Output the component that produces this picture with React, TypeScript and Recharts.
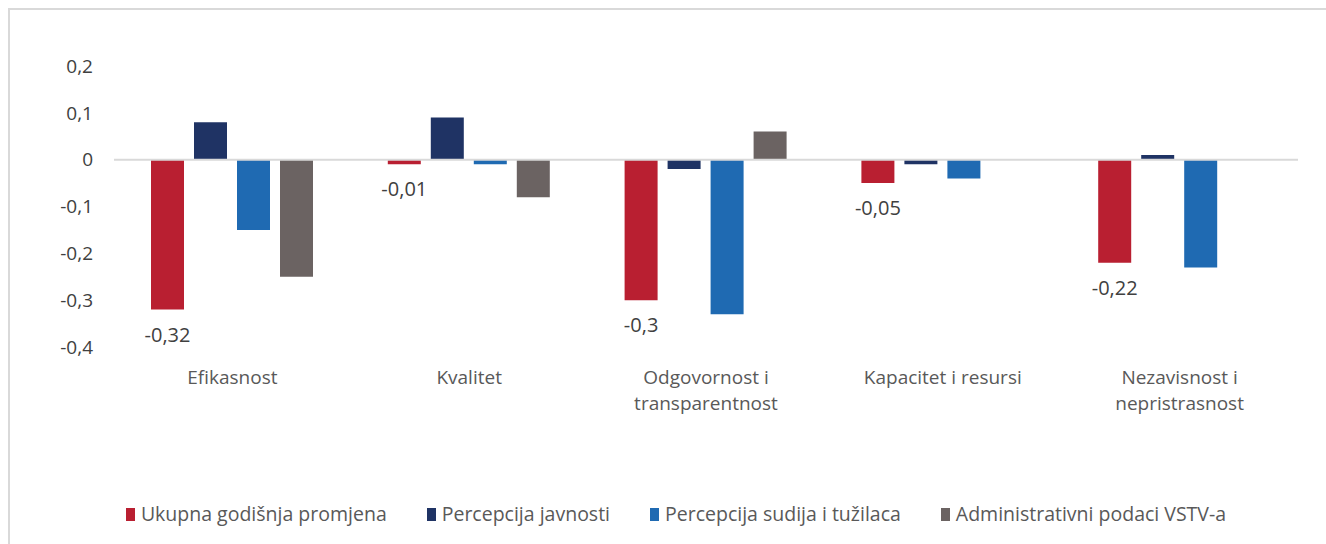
import React from "react";
import {
  BarChart,
  Bar,
  XAxis,
  YAxis,
  Legend,
  LabelList,
  ReferenceLine,
} from "recharts";

const categories = [
  "Efikasnost",
  "Kvalitet",
  "Odgovornost i transparentnost",
  "Kapacitet i resursi",
  "Nezavisnost i nepristrasnost",
];

const ukupna = [-0.32, -0.01, -0.3, -0.05, -0.22];
const javnost = [0.08, 0.09, -0.02, -0.01, 0.01];
const sudije = [-0.15, -0.01, -0.33, -0.04, -0.23];
const vstv = [-0.25, -0.08, 0.06, null, null];

const yTicks = [-0.4, -0.3, -0.2, -0.1, 0, 0.1, 0.2];

const series = [
  { key: "ukupna", name: "Ukupna godišnja promjena", color: "#B91F31" },
  { key: "javnost", name: "Percepcija javnosti", color: "#1F3364" },
  { key: "sudije", name: "Percepcija sudija i tužilaca", color: "#1F6AB2" },
  { key: "vstv", name: "Administrativni podaci VSTV-a", color: "#6B6362" },
];

const data = categories.map((name, i) => ({
  name,
  ukupna: ukupna[i],
  javnost: javnost[i],
  sudije: sudije[i],
  vstv: vstv[i],
}));

const FONT = "'Open Sans', Lato, sans-serif";

const comma = (v: number) => String(v).replace(".", ",");

function wrap(text: string, max: number) {
  const words = text.split(" ");
  const lines: string[] = [];
  let cur = "";
  for (const w of words) {
    const next = cur ? cur + " " + w : w;
    if (next.length > max && cur) {
      lines.push(cur);
      cur = w;
    } else {
      cur = next;
    }
  }
  if (cur) lines.push(cur);
  return lines;
}

function CategoryTick(props: any) {
  const { x, y, payload } = props;
  const lines = wrap(payload.value, 20);
  return (
    <text x={x} y={y} textAnchor="middle" fill="#595959" fontSize={19} fontFamily={FONT}>
      {lines.map((l, i) => (
        <tspan key={i} x={x} dy={i === 0 ? 37 : 26}>
          {l}
        </tspan>
      ))}
    </text>
  );
}

function BottomLabel(props: any) {
  const { x, y, width, height, value } = props;
  if (value == null) return null;
  const bottom = Math.max(y, y + height);
  return (
    <text
      x={x + width / 2}
      y={bottom + 32}
      textAnchor="middle"
      fill="#404040"
      fontSize={20}
      fontFamily={FONT}
    >
      {comma(value)}
    </text>
  );
}

function LegendContent() {
  return (
    <div
      style={{
        display: "flex",
        justifyContent: "center",
        gap: 40,
        fontFamily: FONT,
        fontSize: 19.5,
        color: "#595959",
        lineHeight: "24px",
      }}
    >
      {series.map((s) => (
        <div key={s.key} style={{ display: "flex", alignItems: "center" }}>
          <span
            style={{
              display: "inline-block",
              width: 9,
              height: 13,
              background: s.color,
              marginRight: 6,
            }}
          />
          {s.name}
        </div>
      ))}
    </div>
  );
}

export default function App() {
  return (
    <div
      style={{
        position: "fixed",
        left: 8,
        top: 8,
        width: 1330,
        height: 536,
        overflow: "hidden",
        borderTop: "2px solid #d9d9d9",
        borderLeft: "2px solid #d9d9d9",
        background: "#fff",
      }}
    >
      <BarChart
        width={1316}
        height={534}
        data={data}
        margin={{ top: 56, right: 28, bottom: 18, left: 44 }}
        barSize={33}
        barGap={10}
      >
        <XAxis
          dataKey="name"
          axisLine={false}
          tickLine={false}
          tickSize={0}
          tickMargin={0}
          height={155}
          interval={0}
          tick={<CategoryTick />}
        />
        <YAxis
          domain={[-0.4, 0.2]}
          ticks={yTicks}
          axisLine={false}
          tickLine={false}
          tickSize={0}
          tickMargin={21}
          width={60}
          tickFormatter={comma}
          tick={{ fill: "#404040", fontSize: 19, fontFamily: FONT }}
        />
        <ReferenceLine y={0} stroke="#d9d9d9" strokeWidth={2} />
        <Legend verticalAlign="bottom" content={<LegendContent />} />
        {series.map((s) => (
          <Bar
            key={s.key}
            dataKey={s.key}
            name={s.name}
            fill={s.color}
            isAnimationActive={false}
          >
            {s.key === "ukupna" && (
              <LabelList dataKey="ukupna" content={<BottomLabel />} />
            )}
          </Bar>
        ))}
      </BarChart>
    </div>
  );
}
